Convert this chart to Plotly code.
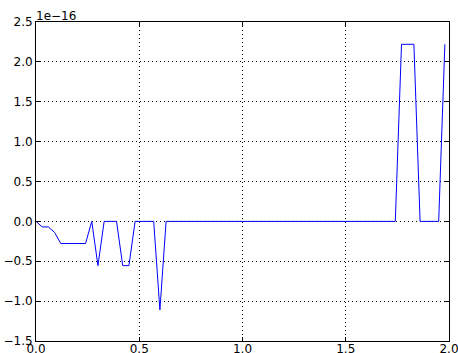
import plotly.graph_objects as go

x_values = [0.0, 0.03, 0.06, 0.09, 0.12, 0.15, 0.18, 0.21, 0.24, 0.27,
            0.30, 0.33, 0.36, 0.39, 0.42, 0.45, 0.48, 0.51, 0.54, 0.57,
            0.60, 0.63, 0.66, 0.69, 0.72, 0.75, 0.78, 0.81, 0.84, 0.87,
            0.90, 0.93, 0.96, 0.99, 1.02, 1.05, 1.08, 1.11, 1.14, 1.17,
            1.20, 1.23, 1.26, 1.29, 1.32, 1.35, 1.38, 1.41, 1.44, 1.47,
            1.50, 1.53, 1.56, 1.59, 1.62, 1.65, 1.68, 1.71, 1.74, 1.77,
            1.80, 1.83, 1.86, 1.89, 1.92, 1.95, 1.98]

y_values = [0.0, -6.94e-18, -6.94e-18, -1.388e-17, -2.776e-17, -2.776e-17,
            -2.776e-17, -2.776e-17, -2.776e-17, 0.0, -5.551e-17, 0.0, 0.0, 0.0,
            -5.551e-17, -5.551e-17, 0.0, 0.0, 0.0, 0.0, -1.1102e-16,
            0.0, 0.0, 0.0, 0.0, 0.0, 0.0, 0.0, 0.0, 0.0, 0.0,
            0.0, 0.0, 0.0, 0.0, 0.0, 0.0, 0.0, 0.0, 0.0, 0.0,
            0.0, 0.0, 0.0, 0.0, 0.0, 0.0, 0.0, 0.0, 0.0, 0.0,
            0.0, 0.0, 0.0, 0.0, 0.0, 0.0, 0.0, 0.0,
            2.2204e-16, 2.2204e-16, 2.2204e-16, 0.0, 0.0, 0.0, 0.0, 2.2204e-16]

x_ticks = [0.0, 0.5, 1.0, 1.5, 2.0]
x_tick_labels = ["0.0", "0.5", "1.0", "1.5", "2.0"]
y_ticks = [-1.5e-16, -1.0e-16, -0.5e-16, 0.0, 0.5e-16, 1.0e-16, 1.5e-16, 2.0e-16, 2.5e-16]
y_tick_labels = ["\u22121.5", "\u22121.0", "\u22120.5", "0.0", "0.5", "1.0", "1.5", "2.0", "2.5"]
offset_label = "1e\u221216"

fig = go.Figure()
fig.add_trace(go.Scatter(x=x_values, y=y_values, mode="lines",
                         line=dict(color="#0000ff", width=1)))

axis_common = dict(
    showline=True, linecolor="black", linewidth=1, mirror="ticks",
    ticks="inside", ticklen=4, tickwidth=1, tickcolor="black",
    showgrid=True, gridcolor="black", gridwidth=1, griddash="1px,3px",
    zeroline=False, automargin=False, ticklabeloverflow="allow",
    tickfont=dict(family="DejaVu Sans", size=12, color="black"),
)

fig.update_xaxes(range=[0, 2], tickvals=x_ticks, ticktext=x_tick_labels,
                 ticklabelstandoff=-3, **axis_common)
fig.update_yaxes(range=[-1.5e-16, 2.5e-16], tickvals=y_ticks, ticktext=y_tick_labels,
                 **axis_common)

fig.add_annotation(text=offset_label, xref="paper", yref="paper", x=0, y=1,
                   xanchor="left", yanchor="bottom", showarrow=False,
                   font=dict(family="DejaVu Sans", size=12, color="black"),
                   yshift=-3, xshift=-2)

fig.update_layout(width=458, height=353, margin=dict(l=36, r=9, t=22, b=12),
                  paper_bgcolor="white", plot_bgcolor="white", showlegend=False,
                  font=dict(family="DejaVu Sans", size=12, color="black"))

fig.write_html("out.html")
